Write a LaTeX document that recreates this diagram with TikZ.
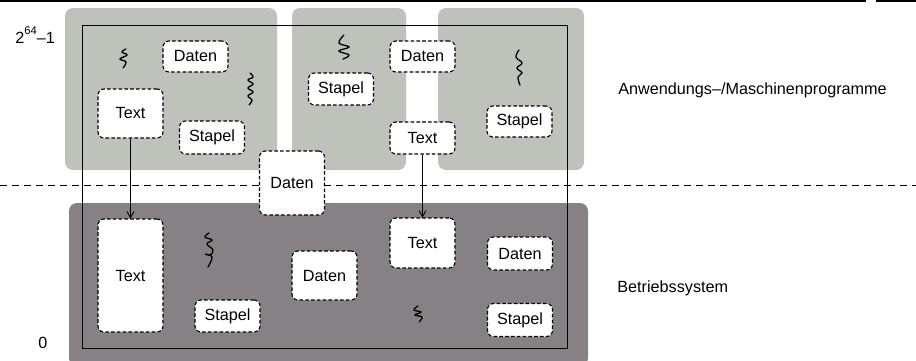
\documentclass[tikz,border=0pt]{standalone}
\usepackage{fontspec}
\setmainfont{Liberation Sans}
\usetikzlibrary{arrows.meta}
\definecolor{lightgr}{RGB}{190,194,187}
\definecolor{darkgr}{RGB}{134,129,133}
\begin{document}
\begin{tikzpicture}[x=0.5pt,y=-0.5pt,
  every node/.style={font=\fontsize{8.1}{9.7}\selectfont},
  seg/.style={draw=black, line width=0.55pt, dash pattern=on 1.8pt off 1.1pt, fill=white, rounded corners=3pt, inner sep=0pt, minimum width=32.5pt},
  area/.style={rounded corners=4pt},
  squig/.style={line width=0.65pt, line cap=round},
  arr/.style={line width=0.45pt, -{Straight Barb[length=3pt,width=3.5pt]}},
  lbl/.style={anchor=west, inner sep=0pt}]
\useasboundingbox (0,0) rectangle (916,360);
% top rule
\fill[black] (0,0) rectangle (866,2);
\fill[black] (876,0) rectangle (916,2);
% areas
\fill[lightgr, area] (65,8) rectangle (277,170);
\fill[lightgr, area] (292,8) rectangle (406,170);
\fill[lightgr, area] (438,8) rectangle (584,170);
\fill[darkgr, area] (69,203) rectangle (588,366);
% frame
\draw[line width=0.5pt] (82,25) rectangle (567,348);
% divider
\draw[line width=0.5pt, dash pattern=on 3.5pt off 2.5pt] (0,185) -- (916,185);
% squiggles
\draw[squig] plot[smooth, tension=0.7] coordinates {(126,49) (122,52) (127,55) (120,59) (126,62) (123,68)};
\draw[squig] plot[smooth, tension=0.7] coordinates {(250,73) (253,77) (248,80) (253,84) (248,88) (253,92) (248,96) (252,100) (249,105)};
\draw[squig] plot[smooth, tension=0.7] coordinates {(344,35) (339,43) (349,47) (339,51) (349,55) (343,59)};
\draw[squig] plot[smooth, tension=0.7] coordinates {(519,50) (516,57) (522,63) (517,68) (522,73) (518,77) (520,85)};
\draw[squig] plot[smooth, tension=0.7] coordinates {(209,233) (205,237) (212,240) (207,244) (213,250) (210,255) (205,254) (212,257) (208,267)};
\draw[squig] plot[smooth, tension=0.7] coordinates {(418,306) (414,310) (421,312) (415,315) (422,317) (419,322)};
% upper nodes
\node[seg, minimum height=15.5pt] (d1) at (195.5,56.5) {Daten};
\node[seg, minimum height=24.5pt] (t1) at (130.5,113.5) {Text};
\node[seg, minimum height=16.5pt] (s1) at (212,137.5) {Stapel};
\node[seg, minimum height=16pt] (s2) at (341,89) {Stapel};
\node[seg, minimum height=15.5pt] (d2) at (422.5,56.5) {Daten};
\node[seg, minimum height=16pt] (t2) at (422.5,138) {Text};
\node[seg, minimum height=15.5pt] (s3) at (519.5,121.5) {Stapel};
\node[seg, minimum height=32pt] (dm) at (292,183) {Daten};
% lower nodes
\node[seg, minimum height=56.5pt] (t3) at (130.5,275.5) {Text};
\node[seg, minimum height=16pt] (s4) at (227.5,316) {Stapel};
\node[seg, minimum height=24.5pt] (d3) at (324.5,275.5) {Daten};
\node[seg, minimum height=25pt] (t4) at (422.5,243) {Text};
\node[seg, minimum height=16.5pt] (d4) at (520,253.5) {Daten};
\node[seg, minimum height=16.5pt] (s5) at (520,320) {Stapel};
% arrows
\draw[arr] (t1.south) -- (t3.north);
\draw[arr] (t2.south) -- (t4.north);
% labels
\node[lbl] (top) at (15,35) {2\raisebox{1.05ex}{\fontsize{5.6}{6}\selectfont 64}–1};
\node[lbl] (zero) at (38,343) {0};
\node[lbl] (app) at (618,90) {Anwendungs–/Maschinenprogramme};
\node[lbl] (os) at (617,288) {Betriebssystem};
\end{tikzpicture}
\end{document}
